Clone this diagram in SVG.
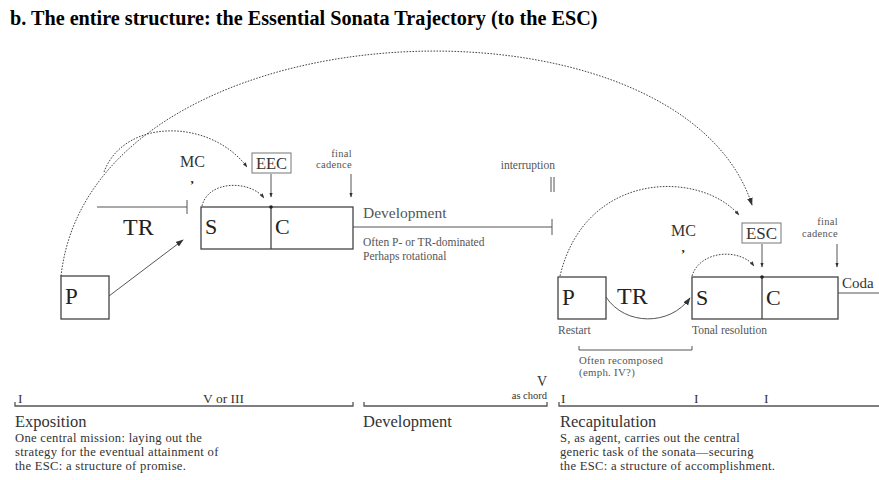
<svg xmlns="http://www.w3.org/2000/svg" width="879" height="480" viewBox="0 0 879 480">
<defs>
<marker id="ah" viewBox="0 0 10 10" refX="9" refY="5" markerWidth="8" markerHeight="8" orient="auto" markerUnits="userSpaceOnUse"><path d="M0,1.5 L10,5 L0,8.5 z" fill="#333"/></marker>
<marker id="ahs" viewBox="0 0 10 10" refX="9" refY="5" markerWidth="5" markerHeight="5" orient="auto" markerUnits="userSpaceOnUse"><path d="M0,1.5 L10,5 L0,8.5 z" fill="#333"/></marker>
</defs>
<style>
.t{font-family:"Liberation Serif","Times New Roman",serif;fill:#333}
.g{fill:#555}
.box{fill:none;stroke:#444;stroke-width:1.3}
.lbox{fill:#fff;stroke:#777;stroke-width:1}
.ln{fill:none;stroke:#555;stroke-width:1}
.dt{fill:none;stroke:#444;stroke-width:1;stroke-dasharray:1.6 1.4}
.big{font-size:22px;fill:#222}
.sm{font-size:11.5px}
.fc{font-size:10.5px;letter-spacing:0.3px}
.desc{font-size:12.6px;letter-spacing:0.3px}
.sec{font-size:16.5px}
.cm{font-size:13px;font-weight:bold;fill:#222}
</style>
<rect width="879" height="480" fill="#fff"/>
<text x="10" y="25" class="t" style="font-size:20.2px;font-weight:bold;fill:#000">b. The entire structure: the Essential Sonata Trajectory (to the ESC)</text>

<g id="connectors">
  <path class="dt" d="M61,276 C92,0 680,-20 752,205" marker-end="url(#ah)"/>
  <path class="dt" d="M104,172 C124,118 210,118 247,167" marker-end="url(#ahs)"/>
  <path class="dt" d="M202,206 C208,180 250,180 264,198" marker-end="url(#ahs)"/>
  <path class="ln" d="M109,296 L183,240" marker-end="url(#ah)"/>
  <path class="ln" d="M97,207 L187,207 M187,200 L187,214"/>
  <path class="ln" d="M271,174 L271,197" marker-end="url(#ahs)"/>
  <path class="ln" d="M351,174 L351,197" marker-end="url(#ahs)"/>
  <path class="ln" d="M353,227 L552,227 M552,219 L552,235"/>
  <path class="ln" d="M551,177 L551,192 M554,177 L554,192"/>
  <path class="dt" d="M560,276 C585,170 700,170 739,215" marker-end="url(#ahs)"/>
  <path class="dt" d="M692,276 C700,250 740,248 754,266" marker-end="url(#ahs)"/>
  <path class="ln" d="M606,297 C625,326 670,326 690,298" marker-end="url(#ah)"/>
  <path class="ln" d="M762,244 L762,267" marker-end="url(#ahs)"/>
  <path class="ln" d="M837,244 L837,267" marker-end="url(#ahs)"/>
  <path class="ln" d="M838,293 L879,293"/>
  <path class="ln" d="M579,346 L579,350 L692,350 L692,346"/>
  <path class="ln" style="stroke-width:1.3" d="M15,402 L15,406 L353,406 L353,402"/>
  <path class="ln" style="stroke-width:1.3" d="M364,402 L364,406 L547,406 L547,402"/>
  <path class="ln" style="stroke-width:1.3" d="M559,402 L559,406 L879,406"/>
</g>

<g id="expo-P">
  <rect class="box" x="61" y="276" width="48" height="43"/>
  <text x="65" y="304" class="t big" style="font-size:23px">P</text>
</g>
<g id="expo-TR">
  <text x="123" y="235" class="t big" style="font-size:24px">TR</text>
</g>
<g id="expo-MC">
  <text x="180" y="167" class="t" style="font-size:16px">MC</text>
  <text x="190.5" y="182.5" class="t cm">,</text>
</g>
<g id="expo-SC">
  <rect class="box" x="201" y="207" width="152" height="42"/>
  <line class="box" x1="271" y1="207" x2="271" y2="249"/>
  <text x="205" y="234" class="t big">S</text>
  <text x="275" y="234" class="t big">C</text>
  <circle cx="271" cy="207" r="1.8" fill="#222"/>
</g>
<g id="EEC">
  <rect class="lbox" x="252" y="153" width="39" height="20"/>
  <text x="271.5" y="169" class="t" style="font-size:16.5px" text-anchor="middle">EEC</text>
</g>
<g id="expo-final">
  <text x="352" y="156.5" class="t fc g" text-anchor="end">final</text>
  <text x="352" y="168.3" class="t fc g" text-anchor="end">cadence</text>
</g>
<g id="development">
  <text x="363" y="218" class="t g" style="font-size:15.5px">Development</text>
  <text x="363" y="246" class="t sm g">Often P- or TR-dominated</text>
  <text x="363" y="260" class="t sm g">Perhaps rotational</text>
  <text x="555" y="169" class="t sm g" text-anchor="end">interruption</text>
</g>
<g id="recap-P">
  <rect class="box" x="558" y="277" width="48" height="42"/>
  <text x="562" y="305" class="t big" style="font-size:23px">P</text>
  <text x="558" y="334" class="t sm g">Restart</text>
</g>
<g id="recap-TR">
  <text x="617" y="304" class="t big" style="font-size:24px">TR</text>
  <text x="579" y="363.5" class="t fc g" style="font-size:10.8px">Often recomposed</text>
  <text x="579" y="375.6" class="t fc g" style="font-size:10.8px">(emph. IV?)</text>
</g>
<g id="recap-MC">
  <text x="671" y="236" class="t" style="font-size:16px">MC</text>
  <text x="681.5" y="251.5" class="t cm">,</text>
</g>
<g id="recap-SC">
  <rect class="box" x="692" y="277" width="146" height="42"/>
  <line class="box" x1="762" y1="277" x2="762" y2="319"/>
  <text x="696" y="305" class="t big">S</text>
  <text x="766" y="305" class="t big">C</text>
  <circle cx="762" cy="277" r="1.8" fill="#222"/>
  <text x="692" y="334" class="t sm g">Tonal resolution</text>
</g>
<g id="ESC">
  <rect class="lbox" x="742" y="223" width="39" height="20"/>
  <text x="761.5" y="239" class="t" style="font-size:17px" text-anchor="middle">ESC</text>
</g>
<g id="recap-final">
  <text x="838" y="225" class="t fc g" text-anchor="end">final</text>
  <text x="838" y="236.8" class="t fc g" text-anchor="end">cadence</text>
  <text x="842" y="288" class="t" style="font-size:15px">Coda</text>
</g>

<g id="timeline">
  <text x="18" y="403" class="t" style="font-size:13.5px">I</text>
  <text x="203" y="403" class="t" style="font-size:13.5px">V or III</text>
  <text x="547" y="386" class="t" style="font-size:14px" text-anchor="end">V</text>
  <text x="547" y="399" class="t" style="font-size:10.5px" text-anchor="end">as chord</text>
  <text x="561" y="403" class="t" style="font-size:13.5px">I</text>
  <text x="694" y="403" class="t" style="font-size:13.5px">I</text>
  <text x="764" y="403" class="t" style="font-size:13.5px">I</text>
</g>
<g id="exposition-text">
  <text x="15" y="427" class="t sec">Exposition</text>
  <text x="15" y="442" class="t desc">One central mission: laying out the</text>
  <text x="15" y="456" class="t desc">strategy for the eventual attainment of</text>
  <text x="15" y="470" class="t desc">the ESC: a structure of promise.</text>
</g>
<g id="development-text">
  <text x="363" y="427" class="t sec">Development</text>
</g>
<g id="recap-text">
  <text x="560" y="427" class="t sec">Recapitulation</text>
  <text x="560" y="442" class="t desc">S, as agent, carries out the central</text>
  <text x="560" y="456" class="t desc">generic task of the sonata—securing</text>
  <text x="560" y="470" class="t desc">the ESC: a structure of accomplishment.</text>
</g>
</svg>
